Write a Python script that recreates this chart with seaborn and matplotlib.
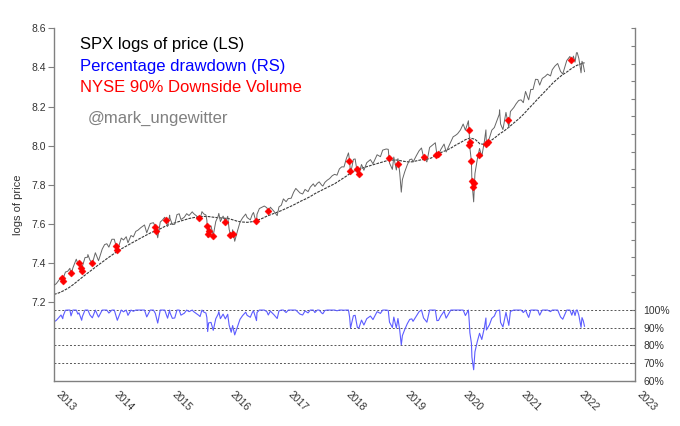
import numpy as np
import pandas as pd
import matplotlib
matplotlib.use("Agg")
import matplotlib.pyplot as plt
import matplotlib.transforms as mtransforms
from matplotlib.ticker import FixedLocator, FuncFormatter
import seaborn as sns

# ---------------- data ----------------
price_dates = [
    "2013-01-02", "2013-01-15", "2013-01-31", "2013-02-14", "2013-02-25", "2013-02-28",
    "2013-03-14", "2013-03-28", "2013-04-11", "2013-04-18", "2013-04-30", "2013-05-21",
    "2013-05-31", "2013-06-07", "2013-06-24", "2013-06-28", "2013-07-15", "2013-07-31",
    "2013-08-02", "2013-08-15", "2013-08-30", "2013-09-18", "2013-09-30", "2013-10-08",
    "2013-10-31", "2013-11-15", "2013-11-29", "2013-12-12", "2013-12-31",
    "2014-01-15", "2014-02-03", "2014-02-28", "2014-03-14", "2014-03-31", "2014-04-11",
    "2014-04-30", "2014-05-15", "2014-05-30", "2014-06-13", "2014-06-30", "2014-07-24",
    "2014-08-07", "2014-08-29", "2014-09-18", "2014-09-30", "2014-10-15", "2014-10-31",
    "2014-11-14", "2014-11-28", "2014-12-16", "2014-12-29", "2014-12-31",
    "2015-01-15", "2015-01-30", "2015-02-13", "2015-02-27", "2015-03-10", "2015-03-31",
    "2015-04-15", "2015-04-30", "2015-05-20", "2015-05-29", "2015-06-15", "2015-06-30",
    "2015-07-08", "2015-07-20", "2015-07-31", "2015-08-14", "2015-08-20", "2015-08-25",
    "2015-08-31", "2015-09-15", "2015-09-29", "2015-10-15", "2015-10-30", "2015-11-03",
    "2015-11-13", "2015-11-30", "2015-12-14", "2015-12-29", "2015-12-31",
    "2016-01-07", "2016-01-20", "2016-01-29", "2016-02-11", "2016-02-29", "2016-03-15",
    "2016-03-31", "2016-04-20", "2016-04-29", "2016-05-19", "2016-05-31", "2016-06-08",
    "2016-06-27", "2016-06-30", "2016-07-15", "2016-07-29", "2016-08-15", "2016-08-31",
    "2016-09-09", "2016-09-22", "2016-10-14", "2016-11-04", "2016-11-15", "2016-11-30",
    "2016-12-13", "2016-12-30",
    "2017-01-13", "2017-01-31", "2017-02-15", "2017-03-01", "2017-03-27", "2017-04-13",
    "2017-04-28", "2017-05-17", "2017-05-31", "2017-06-19", "2017-06-29", "2017-07-14",
    "2017-07-26", "2017-08-10", "2017-08-18", "2017-08-31", "2017-09-15", "2017-09-29",
    "2017-10-16", "2017-10-31", "2017-11-15", "2017-11-30", "2017-12-15", "2017-12-29",
    "2018-01-12", "2018-01-26", "2018-02-02", "2018-02-08", "2018-02-26", "2018-03-09",
    "2018-03-23", "2018-04-02", "2018-04-18", "2018-05-03", "2018-05-21", "2018-06-13",
    "2018-06-29", "2018-07-25", "2018-08-15", "2018-08-29", "2018-09-20", "2018-10-03",
    "2018-10-11", "2018-10-29", "2018-11-07", "2018-11-23", "2018-12-03", "2018-12-14",
    "2018-12-24", "2018-12-31",
    "2019-01-15", "2019-01-31", "2019-02-15", "2019-02-28", "2019-03-08", "2019-03-29",
    "2019-04-15", "2019-04-30", "2019-05-13", "2019-05-31", "2019-06-03", "2019-06-20",
    "2019-07-26", "2019-08-05", "2019-08-15", "2019-08-30", "2019-09-19", "2019-10-02",
    "2019-10-31", "2019-11-15", "2019-11-29", "2019-12-13", "2019-12-31",
    "2020-01-17", "2020-01-31", "2020-02-19", "2020-02-25", "2020-02-28", "2020-03-09",
    "2020-03-12", "2020-03-16", "2020-03-23", "2020-03-31", "2020-04-15", "2020-04-29",
    "2020-05-13", "2020-05-29", "2020-06-08", "2020-06-11", "2020-06-30", "2020-07-15",
    "2020-07-31", "2020-08-14", "2020-08-31", "2020-09-02", "2020-09-08", "2020-09-23",
    "2020-10-12", "2020-10-30", "2020-11-09", "2020-11-30", "2020-12-15", "2020-12-31",
    "2021-01-15", "2021-01-29", "2021-02-12", "2021-02-26", "2021-03-04", "2021-03-17",
    "2021-03-31", "2021-04-16", "2021-04-30", "2021-05-12", "2021-05-28", "2021-06-15",
    "2021-06-30", "2021-07-19", "2021-07-30", "2021-08-16", "2021-09-02", "2021-09-20",
    "2021-10-04", "2021-10-29", "2021-11-18", "2021-11-30", "2021-12-10", "2021-12-20",
    "2021-12-29",
    "2022-01-03", "2022-01-13", "2022-01-27", "2022-02-02", "2022-02-10", "2022-02-18",
]
spx_close = [
    1462, 1472, 1498, 1521, 1488, 1515,
    1563, 1569, 1593, 1541, 1597, 1669,
    1631, 1643, 1573, 1606, 1683, 1686,
    1709, 1661, 1633, 1725, 1682, 1656,
    1757, 1798, 1806, 1775, 1848,
    1848, 1741, 1859, 1841, 1872, 1815,
    1884, 1870, 1924, 1936, 1960, 1988,
    1910, 2003, 2011, 1972, 1862, 2018,
    2039, 2068, 1972, 2090, 2059,
    1992, 1995, 2096, 2105, 2044, 2068,
    2106, 2086, 2126, 2107, 2084, 2063,
    2047, 2128, 2104, 2092, 2036, 1868,
    1972, 1978, 1884, 2024, 2079, 2109,
    2023, 2080, 2022, 2078, 2044,
    1944, 1859, 1940, 1829, 1932, 2015,
    2060, 2102, 2065, 2040, 2097, 2119,
    2001, 2099, 2162, 2174, 2190, 2171,
    2128, 2177, 2133, 2085, 2180, 2199,
    2271, 2239,
    2275, 2279, 2349, 2396, 2342, 2329,
    2384, 2357, 2412, 2453, 2419, 2459,
    2478, 2438, 2425, 2472, 2500, 2519,
    2557, 2575, 2564, 2648, 2676, 2674,
    2786, 2873, 2762, 2581, 2780, 2786,
    2588, 2582, 2708, 2629, 2733, 2776,
    2718, 2846, 2818, 2914, 2931, 2926,
    2728, 2641, 2813, 2633, 2790, 2600,
    2351, 2507,
    2610, 2704, 2776, 2784, 2743, 2834,
    2905, 2946, 2812, 2752, 2744, 2954,
    3026, 2844, 2848, 2926, 3006, 2887,
    3038, 3120, 3141, 3169, 3231,
    3330, 3226, 3386, 3128, 2954, 2747,
    2481, 2386, 2237, 2585, 2783, 2939,
    2820, 3044, 3232, 3002, 3100, 3227,
    3271, 3373, 3500, 3580, 3331, 3237,
    3534, 3270, 3550, 3622, 3694, 3756,
    3768, 3714, 3934, 3811, 3768, 3974,
    3973, 4185, 4181, 4063, 4204, 4246,
    4297, 4258, 4395, 4479, 4537, 4358,
    4300, 4605, 4704, 4567, 4712, 4568,
    4793,
    4796, 4659, 4326, 4589, 4504, 4349,
]
drawdown = [
    0.934, 0.941, 0.957, 0.972, 0.951, 0.968,
    0.999, 1.000, 1.000, 0.967, 1.000, 1.000,
    0.977, 0.984, 0.942, 0.962, 1.000, 1.000,
    1.000, 0.972, 0.956, 1.000, 0.975, 0.960,
    1.000, 1.000, 1.000, 0.983, 1.000,
    1.000, 0.942, 1.000, 0.990, 1.000, 0.970,
    1.000, 0.993, 1.000, 1.000, 1.000, 1.000,
    0.961, 1.000, 1.000, 0.981, 0.926, 1.000,
    1.000, 1.000, 0.954, 1.000, 0.985,
    0.953, 0.955, 1.000, 1.000, 0.971, 0.982,
    1.000, 0.991, 1.000, 0.991, 0.980, 0.970,
    0.963, 1.000, 0.989, 0.983, 0.957, 0.878,
    0.927, 0.930, 0.885, 0.951, 0.977, 0.991,
    0.951, 0.977, 0.950, 0.976, 0.961,
    0.914, 0.874, 0.912, 0.859, 0.908, 0.947,
    0.968, 0.988, 0.970, 0.959, 0.985, 0.996,
    0.940, 0.986, 1.000, 1.000, 1.000, 0.991,
    0.972, 0.994, 0.974, 0.952, 0.995, 1.000,
    1.000, 0.986,
    1.000, 1.000, 1.000, 1.000, 0.977, 0.972,
    0.995, 0.984, 1.000, 1.000, 0.986, 1.000,
    1.000, 0.984, 0.979, 0.998, 1.000, 1.000,
    1.000, 1.000, 0.996, 1.000, 1.000, 0.999,
    1.000, 1.000, 0.961, 0.898, 0.968, 0.970,
    0.901, 0.899, 0.943, 0.915, 0.951, 0.966,
    0.946, 0.991, 0.981, 1.000, 1.000, 0.998,
    0.931, 0.901, 0.960, 0.898, 0.952, 0.887,
    0.802, 0.855,
    0.890, 0.923, 0.947, 0.950, 0.936, 0.967,
    0.991, 1.000, 0.955, 0.934, 0.931, 1.000,
    1.000, 0.940, 0.941, 0.967, 0.993, 0.954,
    1.000, 1.000, 1.000, 1.000, 1.000,
    1.000, 0.969, 1.000, 0.924, 0.872, 0.811,
    0.733, 0.705, 0.661, 0.763, 0.822, 0.868,
    0.833, 0.899, 0.955, 0.887, 0.916, 0.953,
    0.966, 0.996, 1.000, 1.000, 0.930, 0.904,
    0.987, 0.913, 0.992, 1.000, 1.000, 1.000,
    1.000, 0.986, 1.000, 0.969, 0.958, 1.000,
    1.000, 1.000, 0.999, 0.971, 1.000, 1.000,
    1.000, 0.991, 1.000, 1.000, 1.000, 0.961,
    0.948, 1.000, 1.000, 0.971, 1.000, 0.969,
    1.000,
    1.000, 0.971, 0.902, 0.957, 0.939, 0.907,
]

ma_dates = pd.date_range("2013-01-01", "2022-02-01", freq="MS").strftime("%Y-%m-%d").tolist() + ["2022-02-18"]
ma_level = [
    1394, 1405, 1420, 1440, 1465, 1495, 1525, 1555, 1585, 1615, 1645, 1675,
    1705, 1735, 1760, 1785, 1810, 1835, 1860, 1885, 1910, 1930, 1950, 1975,
    1995, 2010, 2025, 2040, 2055, 2065, 2072, 2077, 2075, 2068, 2063, 2058,
    2055, 2040, 2025, 2018, 2015, 2022, 2035, 2055, 2080, 2100, 2120, 2140,
    2165, 2190, 2215, 2245, 2270, 2300, 2335, 2365, 2395, 2425, 2455, 2495,
    2535, 2580, 2615, 2645, 2665, 2685, 2705, 2725, 2745, 2765, 2770, 2770,
    2755, 2745, 2745, 2760, 2775, 2780, 2800, 2840, 2880, 2910, 2945, 2990,
    3030, 3075, 3100, 3080, 3010, 3000, 3045, 3100, 3165, 3215, 3280, 3350,
    3420, 3505, 3595, 3690, 3790, 3890, 3990, 4100, 4195, 4280, 4350, 4430,
    4495, 4535, 4555,
]

marker_dates = [
    "2013-02-20", "2013-02-25", "2013-04-15", "2013-06-05", "2013-06-20", "2013-06-24",
    "2013-08-27", "2014-01-24", "2014-02-03", "2014-09-25", "2014-10-07", "2014-12-05",
    "2015-06-29", "2015-08-20", "2015-08-24", "2015-09-01", "2015-09-28", "2015-12-11",
    "2016-01-13", "2016-02-02", "2016-06-24", "2016-09-09",
    "2018-01-30", "2018-02-05", "2018-03-22", "2018-04-02", "2018-10-10", "2018-12-04",
    "2019-05-13", "2019-08-02", "2019-08-14",
    "2020-02-24", "2020-02-25", "2020-02-27", "2020-03-09", "2020-03-11", "2020-03-16",
    "2020-03-27", "2020-04-24", "2020-06-11", "2020-06-24", "2020-10-26", "2021-11-26",
]
marker_log = [
    7.326, 7.309, 7.348, 7.399, 7.374, 7.361,
    7.399, 7.489, 7.466, 7.583, 7.566, 7.619,
    7.629, 7.591, 7.547, 7.564, 7.537, 7.612,
    7.545, 7.551, 7.617, 7.667,
    7.924, 7.872, 7.883, 7.856, 7.936, 7.907,
    7.944, 7.953, 7.956,
    8.080, 8.002, 8.018, 7.920, 7.818, 7.791,
    7.811, 7.951, 8.009, 8.021, 8.132, 8.437,
]

left_ticks = [7.2, 7.4, 7.6, 7.8, 8.0, 8.2, 8.4, 8.6]
right_label_ticks = [0.6, 0.7, 0.8, 0.9, 1.0]
year_ticks = list(range(2013, 2024))

# ---------------- frames ----------------
price_df = pd.DataFrame({"date": pd.to_datetime(price_dates),
                         "logp": np.log(np.array(spx_close, dtype=float)),
                         "dd": drawdown})
ma_df = pd.DataFrame({"date": pd.to_datetime(ma_dates),
                      "logma": np.log(np.array(ma_level, dtype=float))})
mk_df = pd.DataFrame({"date": pd.to_datetime(marker_dates), "logp": marker_log})

# ---------------- style ----------------
sns.set_style("white")
plt.rcParams["font.family"] = ["Liberation Sans", "DejaVu Sans"]

fig = plt.figure(figsize=(6.8, 4.26), dpi=100)
ax = fig.add_axes([0.0794, 0.1068, 0.8544, 0.8268])
ax2 = ax.twinx()

# drawdown on right axis
for lvl in [0.7, 0.8, 0.9, 1.0]:
    ax2.axhline(lvl, color="#555555", lw=0.7, ls=(0, (2, 2)), zorder=1)
sns.lineplot(data=price_df, x="date", y="dd", ax=ax2, color="#5c5cff",
             lw=0.8, estimator=None, zorder=2)

# price and moving average on left axis
ax.set_zorder(ax2.get_zorder() + 1)
ax.patch.set_visible(False)
sns.lineplot(data=ma_df, x="date", y="logma", ax=ax, color="#3a3a3a",
             lw=0.8, estimator=None, zorder=2)
ax.lines[-1].set_dashes([2.5, 1])
sns.lineplot(data=price_df, x="date", y="logp", ax=ax, color="#666666",
             lw=0.7, estimator=None, zorder=3)
sns.scatterplot(data=mk_df, x="date", y="logp", ax=ax, color="#ff0000",
                marker="D", s=13, edgecolor="#ff0000", linewidth=0.3, zorder=4)

# axes limits
xmin, xmax = pd.Timestamp("2013-01-01"), pd.Timestamp("2023-01-01")
ax.set_xlim(xmin, xmax)
ax.set_ylim(6.8, 8.6)
ax2.set_ylim(0.6, 2.6)

# left axis
ax.set_yticks(left_ticks)
ax.set_yticklabels([f"{v:.1f}" for v in left_ticks])
ax.set_ylabel("logs of price", fontsize=8, color="#333333", labelpad=6)
ax.set_xlabel("")

# x axis years
ax.set_xticks([pd.Timestamp(f"{y}-01-01") for y in year_ticks])
ax.set_xticklabels([str(y) for y in year_ticks], rotation=-45, ha="left",
                   va="top", fontsize=7.5, color="#333333")
offset = mtransforms.ScaledTranslation(-6 / 100, -7 / 100, fig.dpi_scale_trans)
for lab in ax.get_xticklabels():
    lab.set_transform(lab.get_transform() + offset)

# right axis
ax2.yaxis.set_major_locator(FixedLocator([round(0.6 + 0.1 * i, 1) for i in range(21)]))
ax2.yaxis.set_major_formatter(FuncFormatter(
    lambda v, p: f"{int(round(v * 100))}%" if v <= 1.001 else ""))
ax2.set_ylabel("")

# spines & ticks
for a in (ax, ax2):
    a.spines["top"].set_visible(False)
    for s in ("left", "right", "bottom"):
        a.spines[s].set_color("#808080")
        a.spines[s].set_linewidth(1.0)
ax.spines["right"].set_visible(False)
ax2.spines["left"].set_visible(False)
ax2.spines["bottom"].set_visible(False)

ax.tick_params(axis="y", direction="out", length=4, width=0.8, color="#808080",
               labelsize=7.5, labelcolor="#333333", pad=2)
ax.tick_params(axis="x", direction="inout", length=5, width=0.8, color="#808080", pad=4)
ax2.tick_params(axis="y", direction="in", length=3, width=0.8, color="#808080",
                labelsize=7.5, labelcolor="#333333", pad=6)

# legend-like texts
fig.text(80 / 680, 1 - 45 / 426, "SPX logs of price (LS)", color="black",
         fontsize=12, va="center", ha="left")
fig.text(80 / 680, 1 - 66 / 426, "Percentage drawdown (RS)", color="#0000ff",
         fontsize=12, va="center", ha="left")
fig.text(80 / 680, 1 - 87.5 / 426, "NYSE 90% Downside Volume", color="#ff0000",
         fontsize=12, va="center", ha="left")
fig.text(88 / 680, 1 - 118.5 / 426, "@mark_ungewitter", color="#808080",
         fontsize=12, va="center", ha="left")

fig.savefig("out.png", dpi=100)
